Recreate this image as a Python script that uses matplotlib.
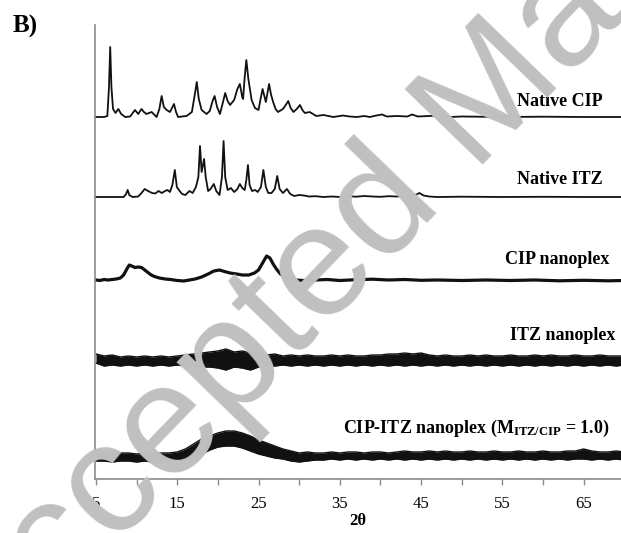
import matplotlib
matplotlib.use("Agg")
import matplotlib.pyplot as plt

# XRD patterns, intensities in arbitrary units above each trace's baseline
# trace baselines (stacking offsets)
offsets = {"cip": 362, "itz": 282, "cip_nano": 199, "itz_nano": 118, "mix": 21}

# Native CIP
cip_2t = [5.0, 6.0, 6.4, 6.6, 6.75, 6.9, 7.1, 7.4, 7.75, 8.1, 8.6, 9.2, 9.8, 10.2,
          10.6, 10.9, 11.2, 11.85, 12.46, 12.8, 13.08, 13.35, 13.7, 14.1, 14.6,
          14.85, 15.1, 15.6, 16.15, 16.8, 17.15, 17.4, 17.65, 18.0, 18.6, 19.0,
          19.35, 19.6, 19.9, 20.25, 20.6, 20.9, 21.2, 21.5, 22.0, 22.4, 22.7, 23.0,
          23.1, 23.3, 23.5, 23.75, 24.15, 24.56, 25.0, 25.25, 25.5, 25.9, 26.1,
          26.3, 26.55, 26.8, 27.1, 27.4, 28.0, 28.35, 28.66, 28.95, 29.3, 29.7,
          30.1, 30.4, 30.7, 31.3, 32.1, 33.0, 34.2, 35.4, 36.2, 37.1, 38.0, 38.7,
          39.5, 40.2, 40.8, 42.0, 43.3, 43.9, 44.6, 46.0, 47.3, 48.5, 50.0, 55.0,
          60.0, 65.0, 70.0]
cip_int = [0, 0, 1, 30, 70, 30, 8, 4, 8, 3, 0, 0.5, 7, 3,
           8, 5, 3, 5, 0, 8, 21, 10, 7, 5, 13,
           5, 0, 0.5, 1, 5, 22, 35, 18, 7, 3, 6,
           16, 21, 10, 3, 14, 24, 16, 12, 17, 28, 33, 20,
           18, 40, 57, 38, 17, 9, 7, 18, 28, 15, 24,
           33, 22, 15, 8, 5, 8, 12, 16, 9, 5, 8,
           12, 7, 4, 5, 1, 2, 0, 1.5, 0.5, 0, 1, 0,
           1.5, 2.5, 0.5, 1, 0.5, 2.5, 0.5, 1, 1.5, 0, 0.5, 0,
           0.3, 0, 0]

# Native ITZ
itz_2t = [5.0, 7.5, 8.4, 8.7, 8.9, 9.1, 9.5, 10.2, 10.6, 11.0, 11.4, 11.9, 12.3,
          12.7, 13.1, 13.5, 13.8, 14.1, 14.4, 14.7, 14.95, 15.2, 15.6, 16.0, 16.5,
          16.9, 17.3, 17.6, 17.8, 18.0, 18.3, 18.5, 18.8, 19.1, 19.5, 19.8, 20.2,
          20.5, 20.7, 20.9, 21.2, 21.6, 22.0, 22.4, 22.7, 23.0, 23.3, 23.5, 23.7,
          23.9, 24.2, 24.6, 24.9, 25.3, 25.6, 25.9, 26.2, 26.6, 27.0, 27.3, 27.6,
          28.0, 28.5, 28.9, 29.4, 30.0, 30.6, 31.2, 32.0, 33.0, 34.0, 35.0, 36.0,
          37.0, 38.0, 39.0, 40.0, 41.0, 42.0, 43.0, 44.2, 44.8, 45.3, 46.0, 47.0,
          50.0, 55.0, 60.0, 65.0, 70.0]
itz_int = [0, 0, 0, 3, 7, 2, 0, 0.5, 4, 8, 6, 4, 3.5,
           6, 4, 6, 7, 5, 12, 27, 10, 7, 3, 2, 6,
           4, 10, 20, 51, 25, 38, 20, 6, 8, 13, 6, 2,
           20, 56, 20, 7, 9, 5, 8, 13, 9, 7, 17, 32,
           12, 6, 7, 5, 10, 27, 10, 4, 4, 8, 21, 8,
           4, 8, 3, 1, 2, 1.5, 0.5, 0.8, 0, 0.5, 0, 0.8,
           0.3, 1, 0.5, 0.2, 0.8, 0.5, 1, 1.5, 4, 1.5, 0.5, 0,
           0.3, 0, 0.2, 0, 0]

# CIP nanoplex
cipn_2t = [5.0, 5.5, 6.0, 6.5, 7.0, 7.5, 8.0, 8.4, 8.8, 9.1, 9.4, 9.8, 10.2, 10.6,
           11.0, 11.4, 11.8, 12.2, 12.8, 13.5, 14.2, 15.0, 15.8, 16.5, 17.2, 18.0,
           18.8, 19.5, 20.2, 20.8, 21.5, 22.3, 23.0, 23.8, 24.5, 25.0, 25.5, 26.0,
           26.4, 26.8, 27.2, 27.7, 28.2, 28.8, 29.5, 30.5, 32.0, 33.5, 35.0, 37.0,
           39.0, 41.0, 43.0, 45.0, 47.0, 50.0, 53.0, 56.0, 59.0, 62.0, 65.0, 68.0, 70.0]
cipn_int = [0, -0.5, 0.5, 0, 0.5, 1, 2, 5, 11, 15, 14, 12.5, 13, 12.5,
            10, 7.5, 5, 3.5, 2, 1, 0.5, -0.5, -1, 0, 1, 3,
            6, 9, 10, 8.5, 7, 6, 5, 5, 7, 10, 17, 24,
            22, 16, 11, 6, 3, 1, 0, -0.5, 0, 0.5, -0.5, 0.3,
            0.8, 0, 0.5, -0.3, 0, -0.5, 0, -0.5, 0, -0.8, -0.3, -0.8, -0.5]

# amorphous samples: noise band, read as upper/lower edge every 1 degree
band_2t = list(range(5, 71))
itzn_hi = [7, 5, 6, 4, 5, 4, 5, 4, 5, 4, 5, 6, 7, 8, 9, 10, 12, 9, 10, 8, 7, 6,
           7, 5, 6, 5, 6, 5, 5, 6, 5, 6, 5, 5, 6, 6, 7, 7, 8, 7, 8, 6, 5, 6, 5, 5,
           6, 5, 6, 5, 5, 6, 5, 5, 6, 5, 6, 5, 5, 6, 5, 5, 6, 5, 5, 5]
itzn_lo = [-2, -5, -4, -5, -4, -5, -4, -5, -4, -5, -4, -5, -5, -6, -6, -7, -9, -6,
           -7, -9, -6, -5, -5, -4, -5, -4, -5, -4, -5, -4, -5, -4, -5, -4, -5, -4,
           -5, -4, -5, -4, -5, -4, -5, -4, -5, -4, -5, -4, -5, -4, -5, -4, -5, -4,
           -5, -4, -5, -4, -5, -4, -5, -4, -5, -4, -5, -4]
mix_hi = [4, 5, 4, 5, 5, 4, 5, 4, 5, 5, 6, 9, 14, 19, 22, 25, 27, 27, 25, 22, 18,
          15, 12, 9, 7, 5, 6, 5, 5, 6, 5, 6, 6, 5, 6, 6, 5, 6, 7, 6, 6, 7, 6, 7, 6,
          6, 7, 6, 6, 7, 6, 6, 7, 6, 6, 7, 6, 6, 7, 7, 9, 7, 6, 6, 7, 6]
mix_lo = [-3, -3, -4, -3, -3, -4, -3, -4, -3, -3, -2, -1, 1, 4, 8, 11, 12, 12, 10, 7,
          4, 2, 0, -1, -3, -4, -3, -2, -2, -1, -2, -1, -2, -1, -2, -1, -2, -1, -2,
          -1, -2, -1, -2, -1, -2, -1, -2, -1, -2, -1, -2, -1, -2, -1, -2, -1, -2,
          -1, -2, -1, -1, -2, -1, -2, -1, -2]

labels = ["Native CIP", "Native ITZ", "CIP nanoplex", "ITZ nanoplex",
          "CIP-ITZ nanoplex (M$_{\\mathrm{ITZ/CIP}}$ = 1.0)"]
label_x = [67.4, 67.4, 68.2, 68.9, 68.2]
label_y = [377, 299, 219, 144, 51]

xticks = [5, 15, 25, 35, 45, 55, 65]

plt.rcParams["font.family"] = ["Liberation Serif", "DejaVu Serif"]
plt.rcParams["mathtext.fontset"] = "custom"
plt.rcParams["mathtext.rm"] = "Liberation Serif:bold"
plt.rcParams["mathtext.it"] = "Liberation Serif:bold"

fig = plt.figure(figsize=(6.21, 5.33), dpi=100)
ax = fig.add_axes([95 / 621, 54 / 533, 526 / 621, 454 / 533])

ink = "#111111"
ax.plot(cip_2t, [v + offsets["cip"] for v in cip_int], color=ink, lw=1.3)
ax.plot(itz_2t, [v + offsets["itz"] for v in itz_int], color=ink, lw=1.3)
ax.plot(cipn_2t, [v + offsets["cip_nano"] for v in cipn_int], color=ink, lw=2.3)

# noisy amorphous traces drawn as filled bands
for hi, lo, key in [(itzn_hi, itzn_lo, "itz_nano"), (mix_hi, mix_lo, "mix")]:
    top = [v + offsets[key] for v in hi]
    bot = [v + offsets[key] for v in lo]
    ax.fill_between(band_2t, bot, top, color=ink, lw=0)
    ax.plot(band_2t, top, color=ink, lw=1.0)
    ax.plot(band_2t, bot, color=ink, lw=1.0)

for txt, x, y in zip(labels, label_x, label_y):
    ax.text(x, y, txt, ha="right", va="center", fontsize=13, fontweight="bold")

ax.set_xlim(4.88, 69.6)
ax.set_ylim(0, 454)
ax.set_xticks(xticks)
ax.set_xticks(range(10, 70, 10), minor=True)
ax.set_yticks([])
ax.tick_params(axis="x", which="both", direction="out", length=4, width=1,
               color="#8c8c8c", labelsize=12, pad=8)
for s in ["top", "right"]:
    ax.spines[s].set_visible(False)
for s in ["left", "bottom"]:
    ax.spines[s].set_color("#8c8c8c")
    ax.spines[s].set_linewidth(1.2)
ax.set_xlabel("2θ", fontsize=12, fontweight="bold", labelpad=1)

fig.text(13 / 621, 1 - 33 / 533, "B)", fontsize=18, fontweight="bold",
         va="baseline")

# journal watermark on top of the figure
fig.text(470 / 621, 1 - 120 / 533, "Accepted Manuscript", fontsize=114,
         family="Liberation Sans", color="#c0c0c0", rotation=46,
         rotation_mode="anchor", ha="center", va="center", zorder=10)

fig.savefig("out.png", dpi=100)
